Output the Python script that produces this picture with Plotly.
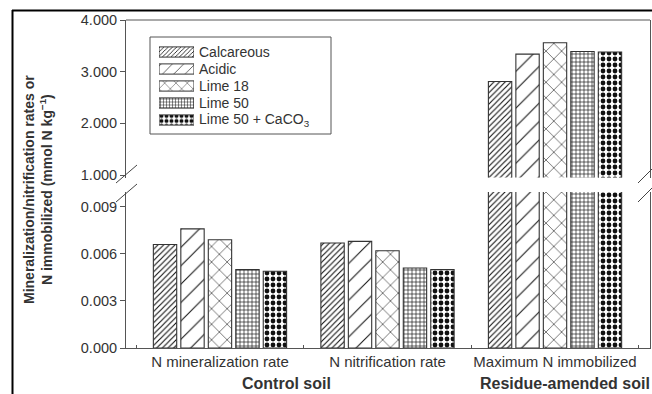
import plotly.graph_objects as go

categories = ["N mineralization rate", "N nitrification rate", "Maximum N immobilized"]
series_names = ["Calcareous", "Acidic", "Lime 18", "Lime 50", "Lime 50 + CaCO<sub>3</sub>"]
calcareous = [0.0066, 0.0067, 2.81]
acidic = [0.0076, 0.0068, 3.34]
lime18 = [0.0069, 0.0062, 3.56]
lime50 = [0.0050, 0.0051, 3.39]
lime50_caco3 = [0.0049, 0.0050, 3.38]
series_values = [calcareous, acidic, lime18, lime50, lime50_caco3]
lower_ticks = [0.0, 0.003, 0.006, 0.009]
upper_ticks = [1.0, 2.0, 3.0, 4.0]
group_labels = ["Control soil", "Residue-amended soil"]

pat_shape = ["/", "/", "x", "+", "."]
pat_size = [4, 13, 11, 4, 6]
pat_solid = [0.28, 0.08, 0.1, 0.3, 0.5]

W, H = 652, 394
L, R, T, B = 126, 650, 20, 348
def px(x):
    return (x - L) / (R - L)
def py(y):
    return (B - y) / (B - T)

FONT = "Liberation Sans, Arial, sans-serif"
fig = go.Figure()

for axis in ["y", "y2"]:
    for i, (name, vals) in enumerate(zip(series_names, series_values)):
        fig.add_trace(go.Bar(
            x=categories, y=vals, name=name, yaxis=axis, xaxis="x",
            showlegend=False,
            marker=dict(color="white", line=dict(color="#333", width=1.1),
                        pattern=dict(shape=pat_shape[i], size=pat_size[i],
                                     solidity=pat_solid[i], fgcolor="#111",
                                     bgcolor="white", fillmode="replace")),
        ))

# legend swatches as an inset bar chart
fig.add_trace(go.Bar(
    y=series_names, x=[1] * len(series_names), orientation="h",
    xaxis="x3", yaxis="y3", width=0.6, showlegend=False, hoverinfo="skip",
    marker=dict(color="white", line=dict(color="#333", width=1),
                pattern=dict(shape=pat_shape, size=[3, 8, 8, 3, 5],
                             solidity=pat_solid, fgcolor="#111", bgcolor="white",
                             fillmode="replace")),
))

axis_font = dict(family=FONT, size=14.5, color="#333")
cat_font = dict(family=FONT, size=15, color="#333")
fig.update_layout(
    width=W, height=H,
    margin=dict(l=L, r=W - R, t=T, b=H - B, autoexpand=False),
    paper_bgcolor="white", plot_bgcolor="white",
    barmode="group", bargap=0.18, bargroupgap=0.15,
    font=dict(family=FONT, color="#333"),
    showlegend=False,
    xaxis=dict(type="category", range=[-0.561, 2.567], anchor="y",
               showline=True, linecolor="#555", linewidth=1,
               ticks="inside", ticklen=3, tickcolor="#555", tickson="boundaries",
               tickfont=cat_font, tickangle=0, automargin=False,
               showgrid=False, zeroline=False),
    yaxis=dict(domain=[0, py(192)], range=[0, 0.00995], tickvals=lower_ticks,
               tickformat=".3f", showline=True, mirror=True, linecolor="#555",
               ticks="outside", ticklen=5, tickcolor="#555", tickfont=axis_font,
               automargin=False, showgrid=False, zeroline=False),
    yaxis2=dict(domain=[py(177.6), 1], range=[0.95, 4.0], tickvals=upper_ticks,
                tickformat=".3f", showline=True, mirror=True, linecolor="#555",
                ticks="outside", ticklen=5, tickcolor="#555", tickfont=axis_font,
                automargin=False, showgrid=False, zeroline=False, anchor="x"),
    xaxis3=dict(domain=[px(159), px(194)], range=[0, 1], anchor="y3",
                visible=False, fixedrange=True, automargin=False),
    yaxis3=dict(domain=[py(128.5), py(43.5)], range=[4.5, -0.5], anchor="x3",
                visible=False, type="category", fixedrange=True, automargin=False),
)

shapes = []
# top line of upper panel
shapes.append(dict(type="line", xref="paper", yref="paper", x0=0, x1=1, y0=1, y1=1,
                   line=dict(color="#555", width=1)))
# break marks
for (x0, x1) in [(116, 137), (638, 656)]:
    for (y0, y1) in [(183, 165), (202, 184)]:
        shapes.append(dict(type="line", xref="paper", yref="paper",
                           x0=px(x0), x1=px(x1), y0=py(y0), y1=py(y1),
                           line=dict(color="#444", width=1)))
# legend box
shapes.append(dict(type="rect", xref="paper", yref="paper",
                   x0=px(150), x1=px(331), y0=py(134), y1=py(37),
                   line=dict(color="#555", width=1), fillcolor="rgba(0,0,0,0)"))
# outer frame (top and left)
shapes.append(dict(type="line", xref="paper", yref="paper", x0=px(12), x1=px(660),
                   y0=py(10.5), y1=py(10.5), line=dict(color="black", width=2)))
shapes.append(dict(type="line", xref="paper", yref="paper", x0=px(12.5), x1=px(12.5),
                   y0=py(10), y1=py(400), line=dict(color="black", width=2)))
fig.update_layout(shapes=shapes)

ann = []
row_y = [52, 69, 86, 103, 120]
for name, yy in zip(series_names, row_y):
    ann.append(dict(text=name, xref="paper", yref="paper", x=px(197), y=py(yy),
                    xanchor="left", yanchor="middle", showarrow=False,
                    font=dict(family=FONT, size=14, color="#333")))
ann.append(dict(text="<b>Mineralization/nitrification rates or<br>N immobilized (mmol N kg<sup>−1</sup>)</b>",
                xref="paper", yref="paper", x=px(38), y=py(190), textangle=-90,
                showarrow=False, xanchor="center", yanchor="middle",
                font=dict(family=FONT, size=14, color="#333")))
ann.append(dict(text="<b>" + group_labels[0] + "</b>", xref="paper", yref="paper",
                x=px(286), y=py(383), showarrow=False, xanchor="center", yanchor="middle",
                font=dict(family=FONT, size=16, color="#333")))
ann.append(dict(text="<b>" + group_labels[1] + "</b>", xref="paper", yref="paper",
                x=px(565), y=py(383), showarrow=False, xanchor="center", yanchor="middle",
                font=dict(family=FONT, size=16, color="#333")))
fig.update_layout(annotations=ann)

fig.write_html("out.html")
